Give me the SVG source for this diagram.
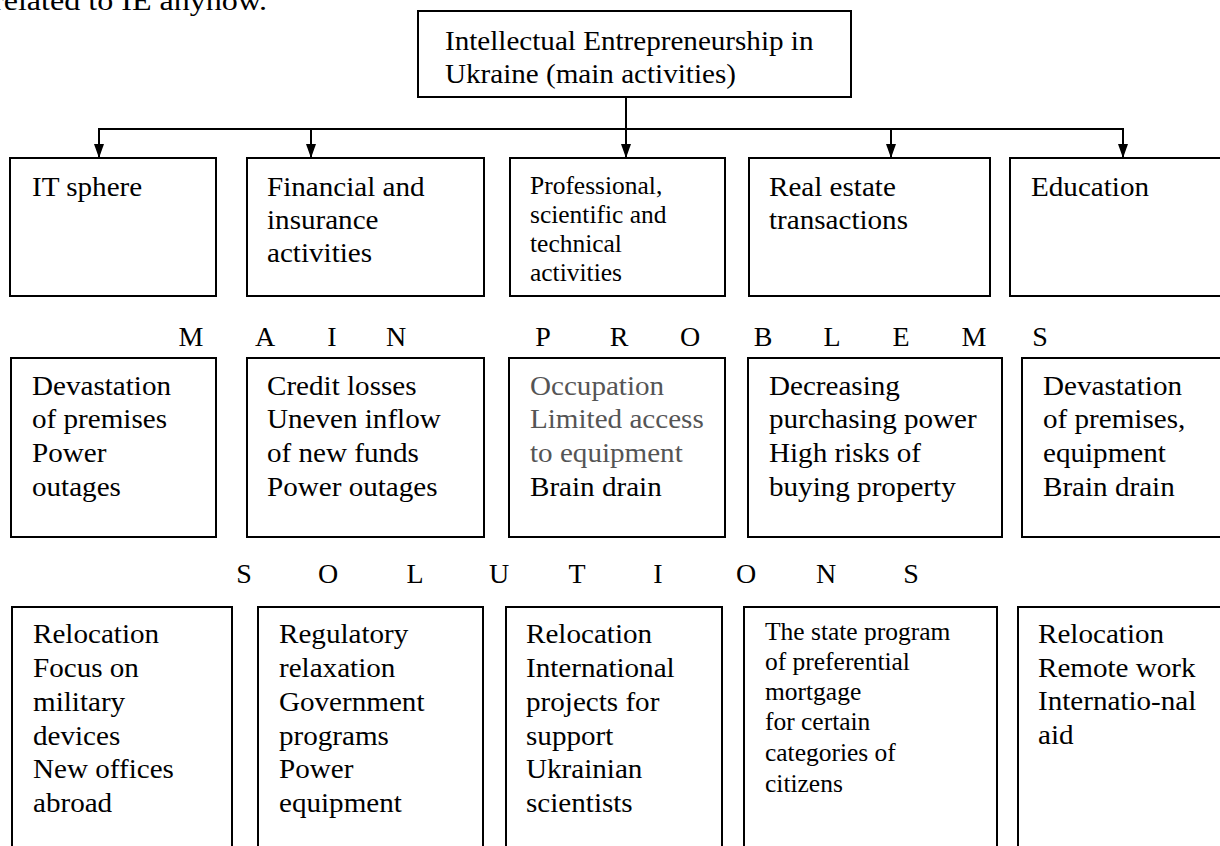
<svg xmlns="http://www.w3.org/2000/svg" width="1220" height="846" viewBox="0 0 1220 846">
<defs>
<style>
.t{font-family:"Liberation Serif","Times New Roman",serif;font-size:28px;fill:#000}
.s{font-size:24.5px}
.g{fill:#555}
.box{fill:#fff;stroke:#000;stroke-width:2}
.con{stroke:#000;stroke-width:2;fill:none}
</style>
<marker id="arr" viewBox="0 0 14 10" refX="14" refY="5" markerWidth="14" markerHeight="10" markerUnits="userSpaceOnUse" orient="auto">
<path d="M0,0 L14,5 L0,10 z" fill="#000"/>
</marker>
</defs>
<rect width="1220" height="846" fill="#fff"/>
<text class="t" x="-7" y="10" textLength="274" lengthAdjust="spacingAndGlyphs">related to IE anyhow.</text>

<g id="connectors">
<line class="con" x1="626" y1="97" x2="626" y2="158" marker-end="url(#arr)"/>
<line class="con" x1="99" y1="129" x2="1123" y2="129"/>
<line class="con" x1="99" y1="128" x2="99" y2="158" marker-end="url(#arr)"/>
<line class="con" x1="311" y1="128" x2="311" y2="158" marker-end="url(#arr)"/>
<line class="con" x1="891" y1="128" x2="891" y2="158" marker-end="url(#arr)"/>
<line class="con" x1="1123" y1="128" x2="1123" y2="158" marker-end="url(#arr)"/>
</g>

<g id="root">
<rect class="box" x="418" y="11" width="433" height="86"/>
<g transform="translate(445 0) scale(1.04 1)"><text class="t" y="50"><tspan x="0">Intellectual Entrepreneurship in</tspan><tspan x="0" y="83">Ukraine (main activities)</tspan></text></g>
</g>

<g id="it">
<rect class="box" x="10" y="158" width="206" height="138"/>
<g transform="translate(32 0) scale(1.04 1)"><text class="t" x="0" y="196">IT sphere</text></g>
</g>
<g id="finance">
<rect class="box" x="247" y="158" width="237" height="138"/>
<g transform="translate(267 0) scale(1.04 1)"><text class="t"><tspan x="0" y="196">Financial and</tspan><tspan x="0" y="229">insurance</tspan><tspan x="0" y="262">activities</tspan></text></g>
</g>
<g id="professional">
<rect class="box" x="510" y="158" width="215" height="138"/>
<g transform="translate(530 0) scale(1.04 1)"><text class="t s"><tspan x="0" y="194">Professional,</tspan><tspan x="0" y="223">scientific and</tspan><tspan x="0" y="252">technical</tspan><tspan x="0" y="281">activities</tspan></text></g>
</g>
<g id="realestate">
<rect class="box" x="749" y="158" width="241" height="138"/>
<g transform="translate(769 0) scale(1.04 1)"><text class="t"><tspan x="0" y="196">Real estate</tspan><tspan x="0" y="229">transactions</tspan></text></g>
</g>
<g id="education">
<rect class="box" x="1010" y="158" width="240" height="138"/>
<g transform="translate(1031 0) scale(1.04 1)"><text class="t" x="0" y="196">Education</text></g>
</g>

<text id="problems-label" class="t" y="346" text-anchor="middle" x="191 265 332 396 470 543 619 690 763 832 901 974 1040">MAIN PROBLEMS</text>

<g id="p-it">
<rect class="box" x="11" y="358" width="205" height="179"/>
<g transform="translate(32 0) scale(1.04 1)"><text class="t"><tspan x="0" y="395">Devastation</tspan><tspan x="0" y="428">of premises</tspan><tspan x="0" y="462">Power</tspan><tspan x="0" y="496">outages</tspan></text></g>
</g>
<g id="p-finance">
<rect class="box" x="247" y="358" width="237" height="179"/>
<g transform="translate(267 0) scale(1.04 1)"><text class="t"><tspan x="0" y="395">Credit losses</tspan><tspan x="0" y="428">Uneven inflow</tspan><tspan x="0" y="462">of new funds</tspan><tspan x="0" y="496">Power outages</tspan></text></g>
</g>
<g id="p-professional">
<rect class="box" x="509" y="358" width="216" height="179"/>
<g transform="translate(530 0) scale(1.04 1)"><text class="t"><tspan class="g" x="0" y="395">Occupation</tspan><tspan class="g" x="0" y="428">Limited access</tspan><tspan class="g" x="0" y="462">to equipment</tspan><tspan x="0" y="496">Brain drain</tspan></text></g>
</g>
<g id="p-realestate">
<rect class="box" x="748" y="358" width="254" height="179"/>
<g transform="translate(769 0) scale(1.04 1)"><text class="t"><tspan x="0" y="395">Decreasing</tspan><tspan x="0" y="428">purchasing power</tspan><tspan x="0" y="462">High risks of</tspan><tspan x="0" y="496">buying property</tspan></text></g>
</g>
<g id="p-education">
<rect class="box" x="1022" y="358" width="228" height="179"/>
<g transform="translate(1043 0) scale(1.04 1)"><text class="t"><tspan x="0" y="395">Devastation</tspan><tspan x="0" y="428">of premises,</tspan><tspan x="0" y="462">equipment</tspan><tspan x="0" y="496">Brain drain</tspan></text></g>
</g>

<text id="solutions-label" class="t" y="583" text-anchor="middle" x="244 328 415 499 577 658 746 826 911">SOLUTIONS</text>

<g id="s-it">
<rect class="box" x="12" y="607" width="220" height="260"/>
<g transform="translate(33 0) scale(1.04 1)"><text class="t"><tspan x="0" y="643">Relocation</tspan><tspan x="0" y="677">Focus on</tspan><tspan x="0" y="711">military</tspan><tspan x="0" y="745">devices</tspan><tspan x="0" y="778">New offices</tspan><tspan x="0" y="812">abroad</tspan></text></g>
</g>
<g id="s-finance">
<rect class="box" x="258" y="607" width="225" height="260"/>
<g transform="translate(279 0) scale(1.04 1)"><text class="t"><tspan x="0" y="643">Regulatory</tspan><tspan x="0" y="677">relaxation</tspan><tspan x="0" y="711">Government</tspan><tspan x="0" y="745">programs</tspan><tspan x="0" y="778">Power</tspan><tspan x="0" y="812">equipment</tspan></text></g>
</g>
<g id="s-professional">
<rect class="box" x="506" y="607" width="216" height="260"/>
<g transform="translate(526 0) scale(1.04 1)"><text class="t"><tspan x="0" y="643">Relocation</tspan><tspan x="0" y="677">International</tspan><tspan x="0" y="711">projects for</tspan><tspan x="0" y="745">support</tspan><tspan x="0" y="778">Ukrainian</tspan><tspan x="0" y="812">scientists</tspan></text></g>
</g>
<g id="s-realestate">
<rect class="box" x="744" y="607" width="253" height="260"/>
<g transform="translate(765 0) scale(1.04 1)"><text class="t s"><tspan x="0" y="640">The state program</tspan><tspan x="0" y="670">of preferential</tspan><tspan x="0" y="700">mortgage</tspan><tspan x="0" y="730">for certain</tspan><tspan x="0" y="761">categories of</tspan><tspan x="0" y="792">citizens</tspan></text></g>
</g>
<g id="s-education">
<rect class="box" x="1018" y="607" width="232" height="260"/>
<g transform="translate(1038 0) scale(1.04 1)"><text class="t"><tspan x="0" y="643">Relocation</tspan><tspan x="0" y="677">Remote work</tspan><tspan x="0" y="710">Internatio-nal</tspan><tspan x="0" y="744">aid</tspan></text></g>
</g>
</svg>
